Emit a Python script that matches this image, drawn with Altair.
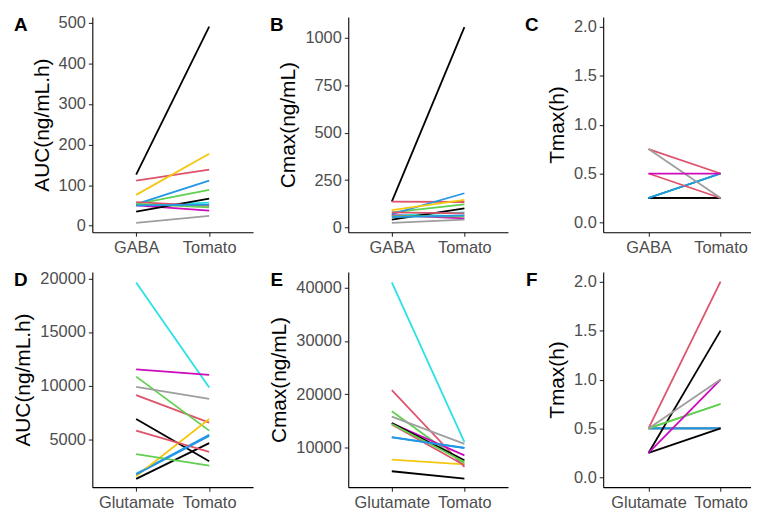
import altair as alt
import pandas as pd

subjects = [f"S{i}" for i in range(1, 13)]
colors = ["#000000", "#DF536B", "#61D04F", "#2297E6", "#28E2E5", "#CD0BBC",
          "#F5C710", "#9E9E9E", "#000000", "#DF536B", "#61D04F", "#2297E6"]

gaba_groups = ["GABA", "Tomato"]
glu_groups = ["Glutamate", "Tomato"]

# Panel A: AUC, GABA vs Tomato
a_ref = [126, 111, 53, 53, 50, 50, 76, 7, 35, 58, 54, 50]
a_tom = [490, 138, 88, 111, 57, 37, 177, 24, 67, 49, 45, 52]
# Panel B: Cmax, GABA vs Tomato
b_ref = [137, 137, 80, 71, 63, 66, 92, 25, 42, 80, 60, 55]
b_tom = [1055, 135, 123, 181, 80, 49, 146, 42, 102, 75, 60, 65]
# Panel C: Tmax, GABA vs Tomato
c_ref = [0.25, 0.75, 0.25, 0.25, 0.25, 0.5, 0.25, 0.75, 0.25, 0.5, 0.25, 0.25]
c_tom = [0.25, 0.5, 0.5, 0.5, 0.5, 0.5, 0.25, 0.25, 0.25, 0.25, 0.5, 0.5]
# Panel D: AUC, Glutamate vs Tomato
d_ref = [6880, 9110, 10840, 1780, 19630, 11520, 1540, 9890, 1290, 5800, 3610, 1700]
d_tom = [2930, 6550, 5800, 5400, 9820, 11000, 6880, 8770, 4630, 3820, 2530, 5300]
# Panel E: Cmax, Glutamate vs Tomato
e_ref = [5530, 20760, 16790, 11930, 41000, 14540, 7700, 15790, 14600, 14300, 14420, 11900]
e_tom = [4150, 6330, 6950, 9930, 11000, 8510, 6830, 10680, 7600, 6640, 7260, 9900]
# Panel F: Tmax, Glutamate vs Tomato
f_ref = [0.25, 0.5, 0.5, 0.5, 0.5, 0.25, 0.5, 0.5, 0.25, 0.5, 0.5, 0.5]
f_tom = [1.5, 2.0, 0.75, 0.5, 0.5, 1.0, 0.5, 1.0, 0.5, 0.5, 0.75, 0.5]

# drawing order of the subjects (overlapping lines drawn first)
default_order = list(range(12))
c_order = [4, 2, 10, 6, 0, 8, 3, 11, 1, 9, 7, 5]
f_order = [4, 6, 9, 3, 11, 0, 8, 1, 2, 10, 5, 7]

auc_ticks_a = [0, 100, 200, 300, 400, 500]
cmax_ticks_b = [0, 250, 500, 750, 1000]
tmax_ticks = [0.0, 0.5, 1.0, 1.5, 2.0]
auc_ticks_d = [5000, 10000, 15000, 20000]
cmax_ticks_e = [10000, 20000, 30000, 40000]

FONT = "Liberation Sans"


def panel(letter, groups, ytitle, ref, tom, order, domain, ticks, fmt, width, pad, align):
    rows = []
    for i in order:
        rows.append({"subject": subjects[i], "group": groups[0], "value": ref[i]})
        rows.append({"subject": subjects[i], "group": groups[1], "value": tom[i]})
    df = pd.DataFrame(rows)
    lines = alt.Chart(df).mark_line(strokeWidth=1.8).encode(
        x=alt.X("group:N", sort=groups,
                scale=alt.Scale(type="point", padding=pad, align=align),
                axis=alt.Axis(title=None, labelAngle=0)),
        y=alt.Y("value:Q",
                scale=alt.Scale(domain=domain, nice=False, zero=False),
                axis=alt.Axis(title=ytitle, values=ticks, format=fmt)),
        color=alt.Color("subject:N", scale=alt.Scale(domain=subjects, range=colors), legend=None),
    )
    lab = alt.Chart(pd.DataFrame({"t": [letter]})).mark_text(
        font=FONT, fontSize=19, fontWeight="bold", align="center", baseline="middle", color="black"
    ).encode(x=alt.value(-72), y=alt.value(8), text="t:N")
    return alt.layer(lines, lab).properties(width=width, height=217)


pA = panel("A", gaba_groups, "AUC(ng/mL.h)", a_ref, a_tom, default_order, [-16, 514], auc_ticks_a, "d", 162, 0.6, 0.5)
pB = panel("B", gaba_groups, "Cmax(ng/mL)", b_ref, b_tom, default_order, [-24, 1108], cmax_ticks_b, "d", 161, 0.6, 0.5)
pC = panel("C", gaba_groups, "Tmax(h)", c_ref, c_tom, c_order, [-0.1, 2.1], tmax_ticks, ".1f", 149, 0.526, 0.598)
pD = panel("D", glu_groups, "AUC(ng/mL.h)", d_ref, d_tom, default_order, [520, 20612], auc_ticks_d, "d", 162, 0.6, 0.5)
pE = panel("E", glu_groups, "Cmax(ng/mL)", e_ref, e_tom, default_order, [2540, 42980], cmax_ticks_e, "d", 161, 0.6, 0.5)
pF = panel("F", glu_groups, "Tmax(h)", f_ref, f_tom, f_order, [-0.1, 2.1], tmax_ticks, ".1f", 149, 0.526, 0.598)

chart = alt.concat(
    pA, pB, pC, pD, pE, pF, columns=3,
    spacing={"row": 40, "column": 96}, bounds="flush", align="each",
).properties(
    padding={"left": 5, "top": 4, "right": 0, "bottom": 0}
).configure_view(stroke=None).configure_axis(
    grid=False,
    labelFont=FONT, labelFontSize=16.5, labelColor="#4D4D4D", labelPadding=3,
    titleFont=FONT, titleFontSize=21, titleFontWeight="normal", titleColor="black", titlePadding=6,
    domainColor="black", domainWidth=1.1, tickColor="#333333", tickWidth=1.1, tickSize=4,
)

chart.save("out.html", embed_options={"renderer": "svg", "actions": False})
